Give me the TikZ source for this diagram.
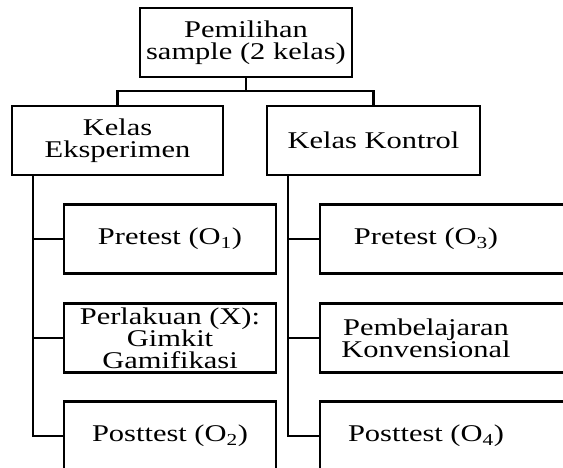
\documentclass[tikz,border=0pt]{standalone}
\usepackage{fontspec}
\setmainfont{Liberation Serif}[FakeStretch=1.27]
\usetikzlibrary{positioning}
\tikzset{block/.style=
   {rectangle,
    draw,
    line width=2.4pt,
    align=center,
    minimum width=212pt,
    minimum height=69pt,
    inner sep=0pt,
    outer sep=0pt,
    font=\fontsize{24}{22}\selectfont}}
\tikzset{bare/.style=
   {block,
    draw=none}}
\tikzset{link/.style = {draw, line width=2.4pt}}

\begin{document}
\begin{tikzpicture}[x=1pt, y=-1pt, node distance=30pt]
    \useasboundingbox (0,0) rectangle (563,468);
    \clip (0,0) rectangle (563,468);

    % sample and the two classes
    \node [block] (sample) at (246,42.5) {Pemilihan\\sample (2 kelas)};
    \node [block, minimum width=211pt] (exp) at (117.5,140.5) {Kelas\\Eksperimen};
    \node [block, minimum width=213pt] (ctrl) at (373.5,140.5) {Kelas Kontrol};

    % experiment column
    \node [block] (pre1) at (170,239) {Pretest (O\textsubscript{1})};
    \node [block, below=of pre1] (treat) {Perlakuan (X):\\Gimkit\\Gamifikasi};
    \node [block, below=29pt of treat] (post2) {Posttest (O\textsubscript{2})};

    % control column, boxes run past the right edge
    \node [bare] (pre3) at (426,239) {Pretest (O\textsubscript{3})};
    \node [bare, below=of pre3] (conv) {Pembelajaran\\Konvensional};
    \node [bare, below=29pt of conv] (post4) {Posttest (O\textsubscript{4})};
    \foreach \n in {pre3, conv, post4}
        \draw [link] (\n.north west) rectangle ++(260,69);

    % connectors
    \draw [link] (sample.south) -- ++(0,14) coordinate (fork);
    \draw [link] (exp.north) |- (fork) -| (ctrl.north);

    \coordinate (lspine) at ([xshift=21pt]exp.south west);
    \coordinate (rspine) at ([xshift=21pt]ctrl.south west);
    \draw [link] (lspine) |- (post2.west);
    \draw [link] (lspine |- pre1.west) -- (pre1.west);
    \draw [link] (lspine |- treat.west) -- (treat.west);
    \draw [link] (rspine) |- (post4.west);
    \draw [link] (rspine |- pre3.west) -- (pre3.west);
    \draw [link] (rspine |- conv.west) -- (conv.west);
\end{tikzpicture}
\end{document}
